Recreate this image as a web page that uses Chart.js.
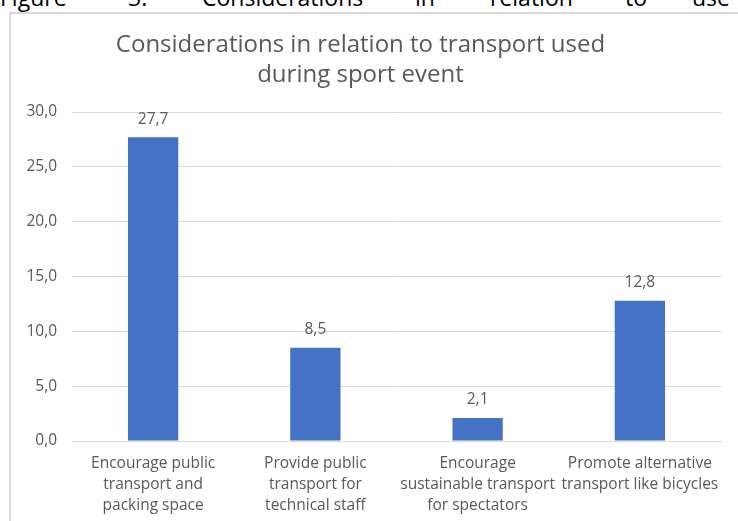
<!DOCTYPE html>
<html>
<head>
<meta charset="utf-8">
<script src="https://cdn.jsdelivr.net/npm/chart.js@4.4.1/dist/chart.umd.min.js"></script>
<style>
  html, body { margin: 0; padding: 0; background: #ffffff; width: 738px; height: 521px; overflow: hidden; position: relative; }
  #frame { position: absolute; left: 9px; top: 12px; width: 760px; height: 540px; border: 2px solid #d9d9d9; box-sizing: border-box; }
  #wrap { position: absolute; left: 0; top: 0; width: 738px; height: 521px; }
  .cap { position: absolute; top: -14px; font-family: "Open Sans", sans-serif; font-size: 23px; line-height: 23px; color: #000; white-space: nowrap; }
</style>
</head>
<body>
<div id="frame"></div>
<div id="caption"></div>
<div id="wrap"><canvas id="c" width="738" height="521"></canvas></div>
<script>
// ---- data ----
const captionWords = ["Figure", "3:", "Considerations", "in", "relation", "to", "use"];
const titleLines = ["Considerations in relation to transport used", "during sport event"];
const categories = [
  ["Encourage public", "transport and", "packing space"],
  ["Provide public", "transport for", "technical staff"],
  ["Encourage", "sustainable transport", "for spectators"],
  ["Promote alternative", "transport like bicycles"]
];
const values = [27.7, 8.5, 2.1, 12.8];
const yMin = 0, yMax = 30, yStep = 5;

// caption (cropped page text above the chart)
const capX = [0, 128, 202, 415, 490, 625, 692];
const capEl = document.getElementById('caption');
captionWords.forEach((w, i) => {
  const s = document.createElement('span');
  s.className = 'cap';
  s.textContent = w;
  s.style.left = capX[i] + 'px';
  capEl.appendChild(s);
});

const fmt = v => Number(v).toFixed(1).replace('.', ',');
const gray = '#595959';
const FONT = '"Open Sans", sans-serif';

const valueLabels = {
  id: 'valueLabels',
  afterDatasetsDraw(chart) {
    const ctx = chart.ctx;
    const meta = chart.getDatasetMeta(0);
    ctx.save();
    ctx.font = '15.5px ' + FONT;
    ctx.fillStyle = gray;
    ctx.textAlign = 'center';
    ctx.textBaseline = 'middle';
    meta.data.forEach((bar, i) => {
      ctx.fillText(fmt(values[i]), bar.x, bar.y - 18);
    });
    ctx.restore();
  }
};

new Chart(document.getElementById('c'), {
  type: 'bar',
  data: {
    labels: categories,
    datasets: [{
      data: values,
      backgroundColor: '#4472C4',
      borderWidth: 0,
      barPercentage: 1,
      categoryPercentage: 0.31
    }]
  },
  options: {
    responsive: false,
    animation: false,
    layout: { padding: { left: 0, right: 17, top: 0, bottom: 0 } },
    plugins: {
      legend: { display: false },
      tooltip: { enabled: false },
      title: {
        display: true,
        text: titleLines,
        color: gray,
        font: { family: FONT, size: 24, weight: 'normal', lineHeight: 1.25 },
        padding: { top: 30, bottom: 22 }
      }
    },
    scales: {
      x: {
        grid: { display: false, drawTicks: false },
        border: { display: true, color: '#d9d9d9', width: 1 },
        ticks: {
          color: gray,
          font: { family: FONT, size: 15.5, lineHeight: 1.355 },
          padding: 12.5,
          maxRotation: 0,
          autoSkip: false
        },
        afterFit(scale) { scale.height = 80; }
      },
      y: {
        min: yMin, max: yMax,
        grid: { color: '#d9d9d9', drawTicks: false, lineWidth: 1 },
        border: { display: false },
        ticks: {
          stepSize: yStep,
          color: gray,
          font: { family: FONT, size: 15.5 },
          padding: 15,
          callback: v => fmt(v)
        },
        afterFit(scale) { scale.width = 72; }
      }
    }
  },
  plugins: [valueLabels]
});
</script>
</body>
</html>
